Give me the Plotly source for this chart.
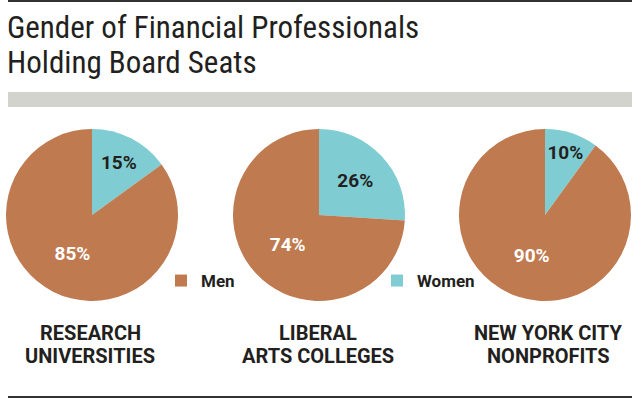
import plotly.graph_objects as go

title_lines = ["Gender of Financial Professionals", "Holding Board Seats"]
groups = [["RESEARCH", "UNIVERSITIES"], ["LIBERAL", "ARTS COLLEGES"], ["NEW YORK CITY", "NONPROFITS"]]
labels = ["Women", "Men"]
women = [15, 26, 10]
men = [85, 74, 90]
colors = {"Women": "#7fccd2", "Men": "#c07a50"}

TITLE_FONT = "Roboto Condensed, DejaVu Sans Condensed, Roboto, sans-serif"
FONT = "Roboto, sans-serif"
W, H = 640, 399
pie_x = [(6, 178), (233, 405), (459, 631)]
pie_y = (129, 301)
label_x = [90, 318, 548]

fig = go.Figure()
for i, g in enumerate(groups):
    x0, x1 = pie_x[i]
    fig.add_trace(go.Pie(
        labels=labels,
        values=[women[i], men[i]],
        sort=False,
        direction="clockwise",
        rotation=0,
        marker=dict(colors=[colors[l] for l in labels], line=dict(width=0)),
        texttemplate="%{value}%",
        textposition="inside",
        insidetextorientation="horizontal",
        textfont=dict(family=FONT, size=19,
                      color=["#231f20", "#ffffff"], weight="bold"),
        hoverinfo="label+value",
        domain=dict(x=[x0 / W, x1 / W], y=[1 - pie_y[1] / H, 1 - pie_y[0] / H]),
        showlegend=(i == 0),
    ))
    for k, line in enumerate(g):
        fig.add_annotation(
            x=label_x[i] / W, y=1 - (332.5 + 23 * k) / H, xref="paper", yref="paper",
            xanchor="center", yanchor="middle",
            text=line, showarrow=False, align="center",
            font=dict(family=FONT, size=20, color="#231f20", weight="bold"),
        )

for k, line in enumerate(title_lines):
    fig.add_annotation(
        x=5 / W, y=1 - (27 + 35 * k) / H, xref="paper", yref="paper",
        xanchor="left", yanchor="middle",
        text=line, showarrow=False, align="left",
        font=dict(family=TITLE_FONT, size=31, color="#231f20"),
    )

fig.add_shape(type="line", xref="paper", yref="paper", x0=8 / W, x1=632 / W,
              y0=1 - 1 / H, y1=1 - 1 / H, line=dict(color="#333333", width=2))
fig.add_shape(type="rect", xref="paper", yref="paper", x0=8 / W, x1=632 / W,
              y0=1 - 107 / H, y1=1 - 92 / H, fillcolor="#d3d3cd", line=dict(width=0))
fig.add_shape(type="line", xref="paper", yref="paper", x0=8 / W, x1=632 / W,
              y0=1 - 397 / H, y1=1 - 397 / H, line=dict(color="#333333", width=2))

fig.update_layout(
    width=W, height=H,
    margin=dict(l=0, r=0, t=0, b=0),
    paper_bgcolor="white", plot_bgcolor="white",
    uniformtext=dict(minsize=19, mode="show"),
    legend=dict(orientation="h", x=161 / W, y=1 - 281 / H, xanchor="left", yanchor="middle",
                entrywidth=171, entrywidthmode="pixels", traceorder="reversed",
                font=dict(family=FONT, size=17, color="#231f20", weight="bold"),
                bgcolor="rgba(0,0,0,0)", itemclick=False, itemdoubleclick=False),
)

fig.write_html("out.html", config={"displayModeBar": False},
               post_script="document.body.style.margin='0';")
